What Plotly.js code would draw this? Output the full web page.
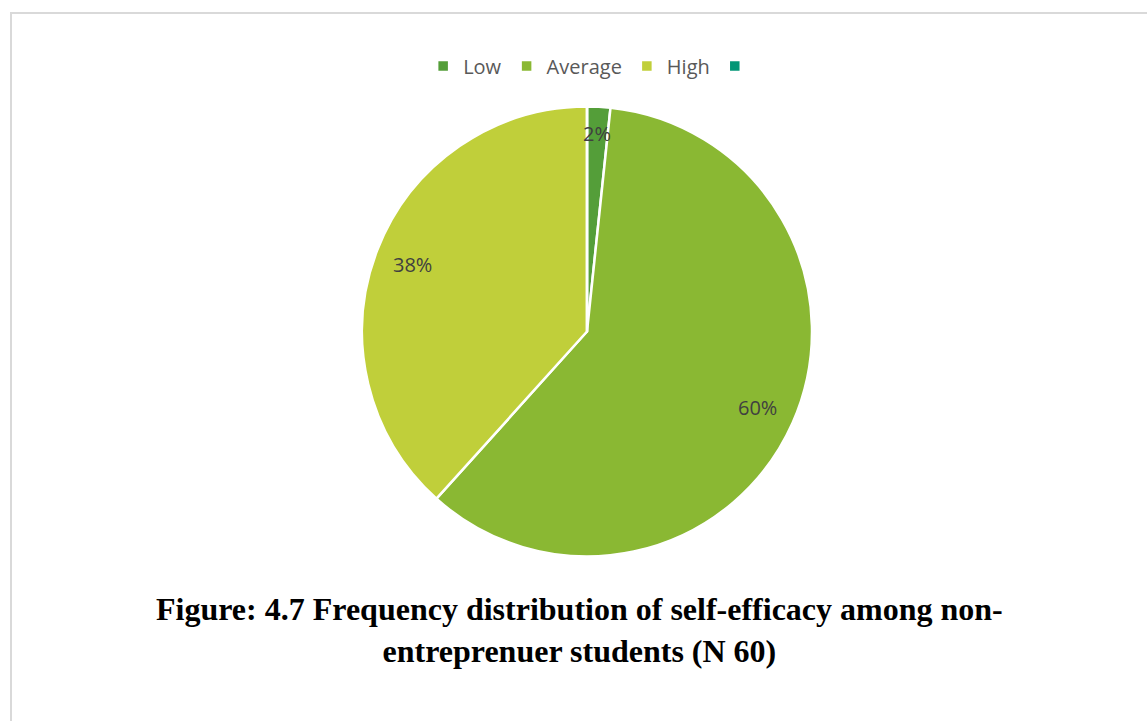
<!DOCTYPE html>
<html>
<head>
<meta charset="utf-8">
<script src="https://cdn.plot.ly/plotly-3.0.1.min.js"></script>
<style>
  html, body { margin: 0; padding: 0; background: #ffffff; overflow: hidden; }
  #frame { position: absolute; left: 10px; top: 12px; width: 1200px; height: 800px; border-left: 2px solid #d9d9d9; border-top: 2px solid #d9d9d9; }
  #chart { position: absolute; left: 0; top: 0; width: 1147px; height: 721px; }
</style>
</head>
<body>
<div id="frame"></div>
<div id="chart"></div>
<script>
const categories = ["Low", "Average", "High", " "];
const counts = [1, 36, 23, 0];
const colors = ["#549E39", "#8AB833", "#C0CF3A", "#029676"];
const titleLines = ["Figure: 4.7 Frequency distribution of self-efficacy among non-", "entreprenuer students (N 60)"];

const W = 1147, H = 721;
const cx = 587, cy = 331.5, R = 225;
const labelRadius = [0.88, 0.83, 0.83, 0.83];

const total = counts.reduce((a, b) => a + b, 0);
const labelAnnotations = [];
let cum = 0;
counts.forEach((v, i) => {
  if (v > 0) {
    const mid = (cum + v / 2) / total * 2 * Math.PI; // clockwise from 12 o'clock
    const r = R * labelRadius[i];
    const px = cx + r * Math.sin(mid);
    const py = cy - r * Math.cos(mid);
    labelAnnotations.push({
      xref: "paper", yref: "paper", x: px / W, y: 1 - py / H,
      xanchor: "center", yanchor: "middle", showarrow: false,
      text: Math.round(v / total * 100) + "%",
      font: { family: "Open Sans, sans-serif", size: 20, color: "#404040" }
    });
  }
  cum += v;
});

const trace = {
  type: "pie",
  labels: categories,
  values: counts,
  sort: false,
  direction: "clockwise",
  rotation: 0,
  marker: { colors: colors, line: { color: "#ffffff", width: 2.5 } },
  textinfo: "none",
  hoverinfo: "label+value+percent",
  domain: { x: [(cx - R) / W, (cx + R) / W], y: [1 - (cy + R) / H, 1 - (cy - R) / H] }
};

const layout = {
  width: W, height: H,
  margin: { l: 0, r: 0, t: 0, b: 0 },
  paper_bgcolor: "rgba(0,0,0,0)",
  plot_bgcolor: "rgba(0,0,0,0)",
  showlegend: true,
  legend: {
    orientation: "h", x: 0.518, xanchor: "center", y: 1 - 66 / H, yanchor: "middle",
    font: { family: "Open Sans, sans-serif", size: 20, color: "#595959" },
    traceorder: "normal", itemwidth: 30
  },
  annotations: labelAnnotations.concat([{
    xref: "paper", yref: "paper", x: 579 / W, y: 1 - 630 / H, xanchor: "center", yanchor: "middle",
    showarrow: false, align: "center",
    text: "<b>" + titleLines.join("<br>") + "</b>",
    font: { family: "Liberation Serif, Times New Roman, serif", size: 32, color: "#000000" }
  }])
};

Plotly.newPlot("chart", [trace], layout, { displayModeBar: false, staticPlot: true });
</script>
</body>
</html>
